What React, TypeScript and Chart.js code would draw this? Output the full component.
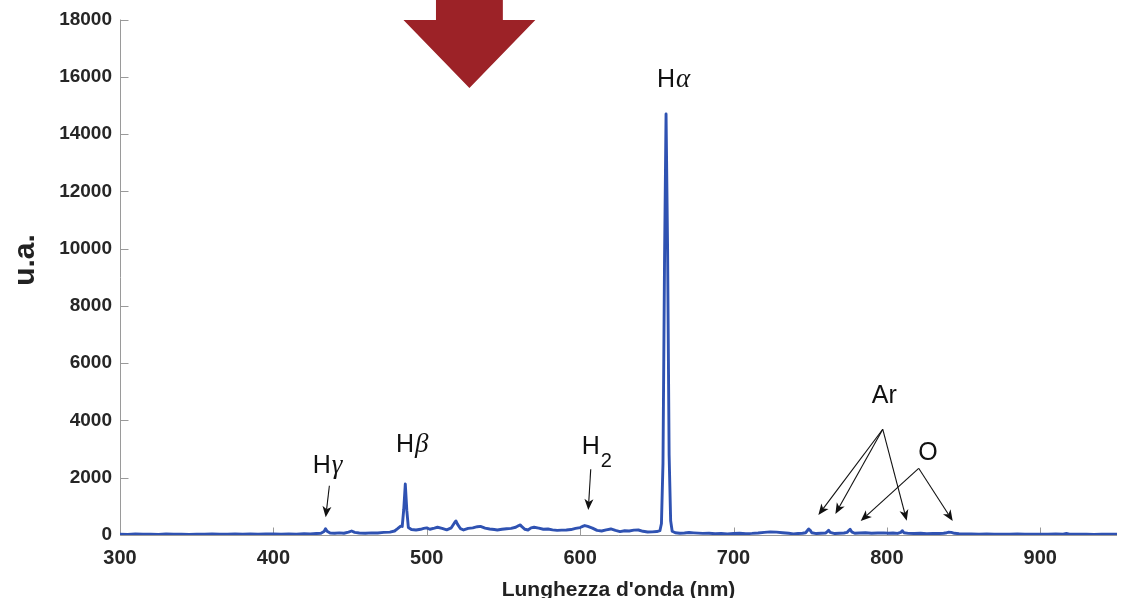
import React, { useEffect, useRef } from 'react';
import { Chart, registerables } from 'chart.js';

Chart.register(...registerables);

// ---- data ----
const wavelengths = [
  300, 305, 310, 315, 320, 325, 330, 335, 340, 345, 350, 355, 360, 365, 370, 375, 380, 385, 390, 395, 400,
  405, 410, 415, 420, 424, 428, 431, 433, 434, 435, 437, 440, 443, 446, 449, 451, 453, 456, 460, 464, 468,
  472, 476, 479, 481, 483, 484, 485, 486, 487, 488, 490, 493, 496, 498, 500, 502, 505, 507, 510, 513, 516,
  518, 519, 520, 522, 524, 527, 530, 533, 535, 538, 541, 544, 546, 549, 552, 555, 558, 560, 561, 562, 564,
  566, 568, 570, 573, 576, 579, 582, 585, 588, 591, 594, 597, 600, 602, 603, 605, 608, 611, 614, 617, 620,
  623, 626, 629, 632, 635, 638, 641, 644, 647, 650, 652, 653, 654, 655, 656, 657, 658, 659, 660, 662, 665,
  668, 671, 674, 677, 680, 684, 688, 692, 696, 700, 704, 708, 712, 716, 720, 724, 728, 732, 736, 739, 742,
  745, 747, 749, 750, 751, 754, 757, 760, 761, 762, 763, 766, 769, 772, 774, 775, 776, 777, 779, 782, 786,
  790, 794, 798, 801, 804, 807, 809, 810, 811, 814, 818, 822, 826, 830, 834, 837, 839, 840, 842, 844, 847,
  851, 855, 860, 865, 870, 875, 880, 885, 890, 895, 900, 905, 910, 915, 917, 919, 925, 930, 935, 940, 945, 950,
];
const intensity = [
  30, 20, 35, 25, 30, 20, 35, 25, 30, 20, 30, 25, 35, 25, 30, 35, 25, 35, 30, 40, 35,
  30, 40, 25, 45, 35, 50, 60, 120, 220, 130, 70, 60, 75, 60, 100, 140, 90, 70, 60, 75, 70,
  90, 100, 140, 220, 310, 300, 900, 1780, 850, 260, 190, 175, 200, 230, 250, 200, 240, 270, 230, 180, 250,
  420, 490, 380, 220, 175, 230, 250, 290, 300, 240, 210, 190, 175, 200, 220, 230, 270, 330, 350, 290, 200,
  175, 250, 270, 240, 200, 210, 180, 160, 170, 175, 190, 230, 260, 310, 330, 300, 240, 160, 140, 180, 210,
  160, 120, 150, 140, 170, 175, 130, 105, 110, 120, 150, 400, 2500, 9500, 14700, 10000, 2800, 500, 130, 80, 60,
  70, 85, 75, 65, 55, 60, 45, 55, 40, 50, 60, 45, 55, 70, 90, 110, 100, 80, 60, 40, 50,
  60, 80, 210, 160, 80, 50, 60, 70, 110, 165, 90, 50, 60, 70, 90, 150, 200, 110, 60, 70, 80,
  60, 70, 75, 60, 70, 55, 90, 150, 80, 55, 50, 60, 45, 55, 50, 60, 80, 95, 90, 60, 45,
  35, 40, 30, 35, 25, 30, 25, 35, 30, 25, 30, 25, 35, 30, 55, 30, 25, 30, 20, 30, 25, 30,
];
const xTicks = [300, 400, 500, 600, 700, 800, 900];
const yTicks = [0, 2000, 4000, 6000, 8000, 10000, 12000, 14000, 16000, 18000];
const xMin = 300;
const xMax = 950;
const yMax = 18000;
const xTitle = "Lunghezza d'onda (nm)";
const yTitle = 'u.a.';

// annotation labels (anchored in data units: left end of the text baseline)
const labelBase = ['H', 'H', 'H', 'H', 'Ar', 'O'];
const labelGreek = ['α', 'β', 'γ', '', '', ''];
const labelSub = ['', '', '', '2', '', ''];
const labelX = [650.1, 479.9, 425.6, 601.0, 790.1, 820.5];
const labelY = [15653, 2909, 2165, 2828, 4599, 2619];

// annotation arrows (data units)
const arrowFromX = [436.5, 606.9, 797.3, 797.3, 797.3, 820.7, 820.7];
const arrowFromY = [1721, 2294, 3691, 3691, 3691, 2329, 2329];
const arrowToX = [434.1, 605.3, 755.3, 766.4, 812.9, 782.9, 842.9];
const arrowToY = [618, 873, 698, 733, 499, 489, 489];

// big red marker arrow (data units)
const markerX = 527.8;
const markerShaftHalf = 21.8;
const markerHeadHalf = 43.0;
const markerHeadTop = 17983;
const markerTip = 15608;

const SANS = '"Liberation Sans", Arial, Helvetica, sans-serif';
const SERIF = '"Liberation Serif", "Times New Roman", serif';
const AXIS_GRAY = '#9a9a9a';

const decorPlugin = {
  id: 'decor',
  beforeDatasetsDraw(chart: any) {
    const { ctx, chartArea, scales } = chart;
    const xs = scales.x;
    const ys = scales.y;
    ctx.save();
    ctx.strokeStyle = AXIS_GRAY;
    ctx.lineWidth = 1;
    ctx.beginPath();
    const lx = Math.round(chartArea.left) + 0.5;
    const by = Math.round(chartArea.bottom) + 0.5;
    ctx.moveTo(lx, chartArea.top);
    ctx.lineTo(lx, by);
    ctx.lineTo(chartArea.right, by);
    yTicks.forEach((v) => {
      const py = Math.round(ys.getPixelForValue(v)) + 0.5;
      ctx.moveTo(lx, py);
      ctx.lineTo(lx + 8, py);
    });
    xTicks.forEach((v) => {
      const px = Math.round(xs.getPixelForValue(v)) + 0.5;
      ctx.moveTo(px, by);
      ctx.lineTo(px, by - 8);
    });
    ctx.stroke();
    ctx.restore();
  },
  afterDraw(chart: any) {
    const { ctx, chartArea, scales } = chart;
    const xs = scales.x;
    const ys = scales.y;
    ctx.save();

    // axis titles
    ctx.fillStyle = '#222';
    ctx.font = `bold 21px ${SANS}`;
    ctx.textAlign = 'center';
    ctx.textBaseline = 'alphabetic';
    ctx.fillText(xTitle, (chartArea.left + chartArea.right) / 2, 596);

    ctx.save();
    ctx.translate(34, 260);
    ctx.rotate(-Math.PI / 2);
    ctx.font = `bold 30px ${SANS}`;
    ctx.textAlign = 'center';
    ctx.fillText(yTitle, 0, 0);
    ctx.restore();

    // labels
    ctx.fillStyle = '#111';
    ctx.textAlign = 'left';
    for (let i = 0; i < labelBase.length; i++) {
      let px = xs.getPixelForValue(labelX[i]);
      const py = ys.getPixelForValue(labelY[i]);
      ctx.font = `25px ${SANS}`;
      ctx.fillText(labelBase[i], px, py);
      px += ctx.measureText(labelBase[i]).width + 1;
      if (labelGreek[i]) {
        ctx.font = `italic 27px ${SERIF}`;
        ctx.fillText(labelGreek[i], px, py);
      }
      if (labelSub[i]) {
        ctx.font = `20px ${SANS}`;
        ctx.fillText(labelSub[i], px, py + 13);
      }
    }

    // arrows
    ctx.strokeStyle = '#111';
    ctx.lineWidth = 1.1;
    for (let i = 0; i < arrowFromX.length; i++) {
      const x0 = xs.getPixelForValue(arrowFromX[i]);
      const y0 = ys.getPixelForValue(arrowFromY[i]);
      const x1 = xs.getPixelForValue(arrowToX[i]);
      const y1 = ys.getPixelForValue(arrowToY[i]);
      const ang = Math.atan2(y1 - y0, x1 - x0);
      const len = 11;
      const hw = 4.5;
      const bx = x1 - len * Math.cos(ang);
      const byy = y1 - len * Math.sin(ang);
      ctx.beginPath();
      ctx.moveTo(x0, y0);
      ctx.lineTo(bx + 3 * Math.cos(ang), byy + 3 * Math.sin(ang));
      ctx.stroke();
      ctx.beginPath();
      ctx.moveTo(x1, y1);
      ctx.lineTo(bx + hw * Math.sin(ang), byy - hw * Math.cos(ang));
      ctx.lineTo(bx + 3 * Math.cos(ang), byy + 3 * Math.sin(ang));
      ctx.lineTo(bx - hw * Math.sin(ang), byy + hw * Math.cos(ang));
      ctx.closePath();
      ctx.fillStyle = '#111';
      ctx.fill();
    }

    // red marker arrow
    const cx = xs.getPixelForValue(markerX);
    const sl = xs.getPixelForValue(markerX - markerShaftHalf);
    const sr = xs.getPixelForValue(markerX + markerShaftHalf);
    const hl = xs.getPixelForValue(markerX - markerHeadHalf);
    const hr = xs.getPixelForValue(markerX + markerHeadHalf);
    const ht = ys.getPixelForValue(markerHeadTop);
    const tip = ys.getPixelForValue(markerTip);
    ctx.fillStyle = '#9c2227';
    ctx.beginPath();
    ctx.moveTo(sl, 0);
    ctx.lineTo(sr, 0);
    ctx.lineTo(sr, ht);
    ctx.lineTo(hr, ht);
    ctx.lineTo(cx, tip);
    ctx.lineTo(hl, ht);
    ctx.lineTo(sl, ht);
    ctx.closePath();
    ctx.fill();

    ctx.restore();
  },
};

export default function App() {
  const canvasRef = useRef<HTMLCanvasElement | null>(null);

  useEffect(() => {
    document.body.style.margin = '0';
    const canvas = canvasRef.current;
    if (!canvas) return;
    const points = wavelengths.map((w, i) => ({ x: w, y: intensity[i] }));
    const chart = new Chart(canvas, {
      type: 'line',
      data: {
        datasets: [
          {
            data: points,
            borderColor: '#2f52b2',
            borderWidth: 2.9,
            borderJoinStyle: 'round',
            pointRadius: 0,
            tension: 0,
            fill: false,
          },
        ],
      },
      options: {
        animation: false,
        responsive: false,
        devicePixelRatio: 1,
        parsing: true,
        layout: { padding: { top: 19.5, right: 4, bottom: 0, left: 0 } },
        plugins: { legend: { display: false }, tooltip: { enabled: false } },
        scales: {
          x: {
            type: 'linear',
            min: xMin,
            max: xMax,
            grid: { display: false, drawTicks: false },
            border: { display: false },
            afterBuildTicks: (s: any) => {
              s.ticks = xTicks.map((v) => ({ value: v }));
            },
            afterFit: (s: any) => {
              s.height = 63;
            },
            ticks: {
              padding: 11,
              color: '#262626',
              font: { family: SANS, size: 20, weight: 'bold' },
              maxRotation: 0,
              callback: (v: any) => String(v),
            },
          },
          y: {
            type: 'linear',
            min: 0,
            max: yMax,
            grid: { display: false, drawTicks: false },
            border: { display: false },
            afterBuildTicks: (s: any) => {
              s.ticks = yTicks.map((v) => ({ value: v }));
            },
            afterFit: (s: any) => {
              s.width = 120;
            },
            ticks: {
              padding: 8,
              color: '#262626',
              font: { family: SANS, size: 19, weight: 'bold' },
              callback: (v: any) => String(v),
            },
          },
        },
      },
      plugins: [decorPlugin],
    });
    return () => chart.destroy();
  }, []);

  return (
    <div style={{ position: 'fixed', left: 0, top: 0, width: 1121, height: 598, background: '#fff' }}>
      <canvas ref={canvasRef} width={1121} height={598} />
    </div>
  );
}
